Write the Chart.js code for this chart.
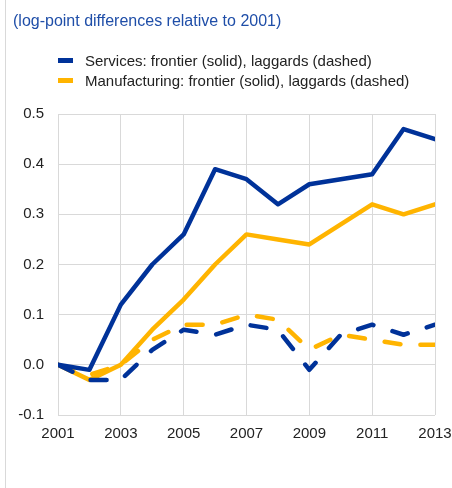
<!DOCTYPE html>
<html>
<head>
<meta charset="utf-8">
<script src="https://cdn.jsdelivr.net/npm/chart.js@4/dist/chart.umd.min.js"></script>
<style>
    body { margin: 0; background: #fff; font-family: "Liberation Sans", Arial, sans-serif; }
    #wrap { position: relative; width: 452px; height: 488px; overflow: hidden; }
    #edge { position: absolute; left: 5px; top: 0; width: 1px; height: 488px; background: #d9d9d9; }
    #title { position: absolute; left: 13px; top: 12px; font-size: 16px; color: #1f4ea8; white-space: nowrap; }
    .leg { position: absolute; left: 58px; font-size: 15px; color: #222; white-space: nowrap; line-height: 18px; }
    .leg span { position: absolute; left: 0; top: 6px; width: 15px; height: 5px; }
    .leg b { font-weight: normal; margin-left: 27px; }
    canvas { position: absolute; left: 0; top: 0; }
</style>
</head>
<body>
<div id="wrap">
    <div id="edge"></div>
    <canvas id="trendChart" width="452" height="488"></canvas>
    <div id="title">(log-point differences relative to 2001)</div>
    <div class="leg" style="top:52px"><span style="background:#003299"></span><b>Services: frontier (solid), laggards (dashed)</b></div>
    <div class="leg" style="top:72px"><span style="background:#ffb400"></span><b>Manufacturing: frontier (solid), laggards (dashed)</b></div>
</div>
<script>
// --- data ---
const years = [2001, 2002, 2003, 2004, 2005, 2006, 2007, 2008, 2009, 2010, 2011, 2012, 2013];
const servicesFrontier = [0, -0.01, 0.12, 0.20, 0.26, 0.39, 0.37, 0.32, 0.36, 0.37, 0.38, 0.47, 0.45];
const servicesLaggards = [0, -0.03, -0.03, 0.03, 0.07, 0.06, 0.08, 0.07, -0.01, 0.06, 0.08, 0.06, 0.08];
const manufFrontier = [0, -0.03, 0.00, 0.07, 0.13, 0.20, 0.26, 0.25, 0.24, 0.28, 0.32, 0.30, 0.32];
const manufLaggards = [0, -0.02, 0.00, 0.05, 0.08, 0.08, 0.10, 0.09, 0.03, 0.06, 0.05, 0.04, 0.04];
const yTicks = [-0.1, 0.0, 0.1, 0.2, 0.3, 0.4, 0.5];
const xTicks = [2001, 2003, 2005, 2007, 2009, 2011, 2013];

const BLUE = '#003299';
const YELLOW = '#ffb400';
const GRID = '#d9d9d9';

const toPoints = (vals) => vals.map((v, i) => ({ x: years[i], y: v }));

const line = (vals, color, dashed) => ({
    data: toPoints(vals),
    borderColor: color,
    backgroundColor: color,
    borderWidth: 4.5,
    borderDash: dashed ? [16, 20] : [],
    borderCapStyle: 'round',
    borderJoinStyle: 'round',
    pointRadius: 0,
    tension: 0,
    fill: false
});

document.addEventListener('DOMContentLoaded', () => {
    const ctx = document.getElementById('trendChart').getContext('2d');

    new Chart(ctx, {
        type: 'line',
        data: {
            datasets: [
                line(servicesFrontier, BLUE, false),
                line(servicesLaggards, BLUE, true),
                line(manufFrontier, YELLOW, false),
                line(manufLaggards, YELLOW, true)
            ]
        },
        options: {
            responsive: false,
            animation: false,
            layout: { padding: { left: 0, right: 0, top: 114, bottom: 0 } },
            plugins: {
                legend: { display: false },
                title: { display: false },
                tooltip: { enabled: false }
            },
            scales: {
                x: {
                    type: 'linear',
                    min: 2001,
                    max: 2013,
                    afterBuildTicks: (axis) => { axis.ticks = xTicks.map(v => ({ value: v })); },
                    afterFit: (axis) => {
                        axis.height = 73;
                        axis.paddingLeft = 0;
                        axis.paddingRight = 17;
                    },
                    grid: { color: GRID, lineWidth: 1, drawTicks: false },
                    border: { display: false },
                    ticks: {
                        padding: 10,
                        color: '#222',
                        font: { family: 'Liberation Sans', size: 15 },
                        callback: (v) => String(v),
                        maxRotation: 0
                    }
                },
                y: {
                    min: -0.1,
                    max: 0.5,
                    afterBuildTicks: (axis) => { axis.ticks = yTicks.map(v => ({ value: v })); },
                    afterFit: (axis) => { axis.width = 58; },
                    grid: { color: GRID, lineWidth: 1, drawTicks: false },
                    border: { display: false },
                    ticks: {
                        padding: 14,
                        color: '#222',
                        font: { family: 'Liberation Sans', size: 15 },
                        callback: (v) => v.toFixed(1)
                    }
                }
            }
        }
    });
});
</script>
</body>
</html>
